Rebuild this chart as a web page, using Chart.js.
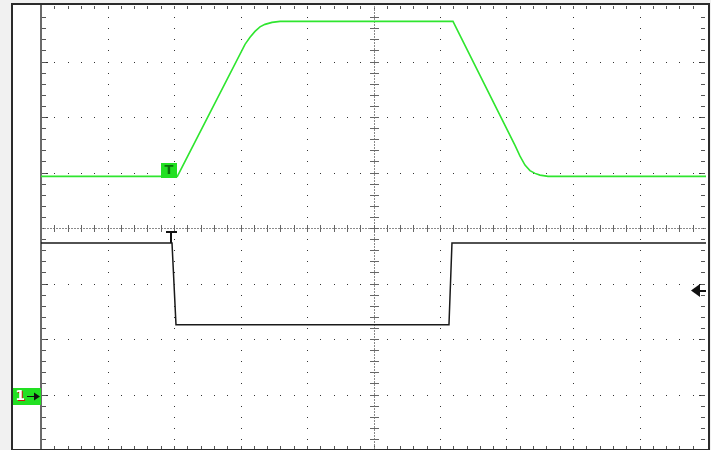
<!DOCTYPE html>
<html>
<head>
<meta charset="utf-8">
<script src="https://cdn.jsdelivr.net/npm/chart.js@4.4.1/dist/chart.umd.min.js"></script>
<style>
  body { margin: 0; background: #f1f1f1; width: 711px; height: 450px; overflow: hidden; }
  #frame { position: absolute; left: 11px; top: 3px; width: 695px; height: 444px;
           border: 2px solid #2b2b2b; background: #fff; }
  #scope { position: absolute; left: 0; top: 0; }
</style>
</head>
<body>
<div id="frame"></div>
<canvas id="scope" width="711" height="450"></canvas>
<script>
// Channel 1 (green) - time in divisions, level in divisions
var ch1Time  = [0, 2.05, 3.068, 3.143, 3.218, 3.293, 3.368, 3.474, 3.594, 6.195, 7.128, 7.203, 7.278, 7.353, 7.429, 7.504, 7.624, 10];
var ch1Level = [0.93, 0.93, 3.31, 3.435, 3.543, 3.624, 3.669, 3.705, 3.723, 3.723, 1.49, 1.295, 1.133, 1.034, 0.984, 0.953, 0.93, 0.93];

// Channel 2 (black)
var ch2Time  = [0, 1.97, 2.03, 6.135, 6.18, 10];
var ch2Level = [-0.27, -0.27, -1.745, -1.745, -0.27, -0.27];

// markers
var ch1GroundLevel = -3.02;
var refArrowLevel = -1.117;
var trigTime = 2.05;

function toPoints(t, v) {
    return t.map(function (x, i) { return { x: x, y: v[i] }; });
}

// draws the scope graticule from the scales
var graticule = {
    id: 'graticule',
    beforeDatasetsDraw: function (chart) {
        var ctx = chart.ctx, a = chart.chartArea;
        var x = chart.scales.x, y = chart.scales.y;
        var i, m, px, py;
        ctx.save();
        ctx.fillStyle = '#333';

        // dotted grid lines
        for (i = 1; i < 10; i++) {
            if (i === 5) continue;
            px = Math.round(x.getPixelForValue(i));
            for (m = 1; m < 40; m++) {
                py = Math.round(y.getPixelForValue(-4 + m * 0.2));
                ctx.fillRect(px, py, 1, 1);
            }
        }
        for (i = -3; i <= 3; i++) {
            if (i === 0) continue;
            py = Math.round(y.getPixelForValue(i));
            for (m = 1; m < 50; m++) {
                px = Math.round(x.getPixelForValue(m * 0.2));
                ctx.fillRect(px, py, 1, 1);
            }
            ctx.fillRect(a.left + 1, py, 6, 1);
            ctx.fillRect(a.right - 7, py, 6, 1);
        }

        // edge ticks
        ctx.fillStyle = '#555';
        for (m = 1; m < 50; m++) {
            px = Math.round(x.getPixelForValue(m * 0.2));
            ctx.fillRect(px, a.top, 1, 3);
            ctx.fillRect(px, a.bottom - 4, 1, 3);
        }
        for (m = 1; m < 40; m++) {
            py = Math.round(y.getPixelForValue(-4 + m * 0.2));
            ctx.fillRect(a.left + 1, py, 4, 1);
            ctx.fillRect(a.right - 5, py, 4, 1);
        }

        // center cross
        var cx = Math.round(x.getPixelForValue(5));
        var cy = Math.round(y.getPixelForValue(0));
        ctx.strokeStyle = '#8a8a8a';
        ctx.lineWidth = 1;
        ctx.setLineDash([2, 1]);
        ctx.beginPath();
        ctx.moveTo(a.left, cy + 0.5);
        ctx.lineTo(a.right, cy + 0.5);
        ctx.moveTo(cx + 0.5, a.top);
        ctx.lineTo(cx + 0.5, a.bottom);
        ctx.stroke();
        ctx.setLineDash([]);
        ctx.fillStyle = '#666';
        for (m = 1; m < 50; m++) {
            px = Math.round(x.getPixelForValue(m * 0.2));
            ctx.fillRect(px, cy - 3, 1, 7);
        }
        for (m = 1; m < 40; m++) {
            py = Math.round(y.getPixelForValue(-4 + m * 0.2));
            ctx.fillRect(cx - 4, py, 9, 1);
        }

        // left graticule edge
        ctx.fillStyle = '#6a6a6a';
        ctx.fillRect(a.left - 1, a.top - 1, 2, a.bottom - a.top);
        ctx.restore();
    },
    afterDatasetsDraw: function (chart) {
        var ctx = chart.ctx, a = chart.chartArea;
        var x = chart.scales.x, y = chart.scales.y;
        ctx.save();

        // green trigger flag on channel 1
        var tx = Math.round(x.getPixelForValue(trigTime));
        var ty = Math.round(y.getPixelForValue(ch1Level[0]));
        ctx.fillStyle = '#22e022';
        ctx.fillRect(tx - 16, ty - 13, 16, 15);
        ctx.fillStyle = '#0b6e0b';
        ctx.font = 'bold 13px "DejaVu Sans"';
        ctx.textAlign = 'center';
        ctx.textBaseline = 'middle';
        ctx.fillText('T', tx - 8, ty - 5);

        // black trigger T on channel 2
        var bx = Math.round(x.getPixelForValue(1.95));
        var by = Math.round(y.getPixelForValue(ch2Level[0]));
        ctx.fillStyle = '#111';
        ctx.fillRect(bx - 5, by - 12, 11, 2);
        ctx.fillRect(bx - 1, by - 12, 2, 12);

        // channel 1 ground marker
        var gy = Math.round(y.getPixelForValue(ch1GroundLevel));
        ctx.fillStyle = '#22e022';
        ctx.fillRect(13, gy - 8, a.left - 13, 17);
        ctx.font = 'bold 14px "DejaVu Sans"';
        ctx.fillStyle = '#d01010';
        ctx.fillText('1', 21, gy + 1);
        ctx.fillStyle = '#ffffff';
        ctx.fillText('1', 20, gy);
        ctx.fillStyle = '#111';
        ctx.fillRect(27, gy, 8, 1);
        ctx.beginPath();
        ctx.moveTo(a.left - 1, gy + 0.5);
        ctx.lineTo(a.left - 7, gy - 3.5);
        ctx.lineTo(a.left - 7, gy + 4.5);
        ctx.closePath();
        ctx.fill();

        // reference arrow at right
        var ry = Math.round(y.getPixelForValue(refArrowLevel));
        ctx.beginPath();
        ctx.moveTo(a.right - 15, ry + 0.5);
        ctx.lineTo(a.right - 6, ry - 6);
        ctx.lineTo(a.right - 6, ry + 7);
        ctx.closePath();
        ctx.fill();
        ctx.fillRect(a.right - 6, ry, 6, 2);
        ctx.restore();
    }
};

var scopeChart = new Chart(document.getElementById('scope'), {
    type: 'line',
    data: {
        datasets: [{
            label: 'CH1',
            data: toPoints(ch1Time, ch1Level),
            borderColor: '#2fe52f',
            borderWidth: 1.6,
            pointRadius: 0,
            tension: 0
        }, {
            label: 'CH2',
            data: toPoints(ch2Time, ch2Level),
            borderColor: '#1a1a1a',
            borderWidth: 1.5,
            pointRadius: 0,
            tension: 0
        }]
    },
    options: {
        responsive: false,
        animation: false,
        devicePixelRatio: 1,
        layout: { padding: { left: 41, right: 5, top: 6, bottom: 0 } },
        plugins: { legend: { display: false }, tooltip: { enabled: false } },
        scales: {
            x: { type: 'linear', min: 0, max: 10, display: false },
            y: { type: 'linear', min: -4, max: 4, display: false }
        }
    },
    plugins: [graticule]
});
</script>
</body>
</html>
